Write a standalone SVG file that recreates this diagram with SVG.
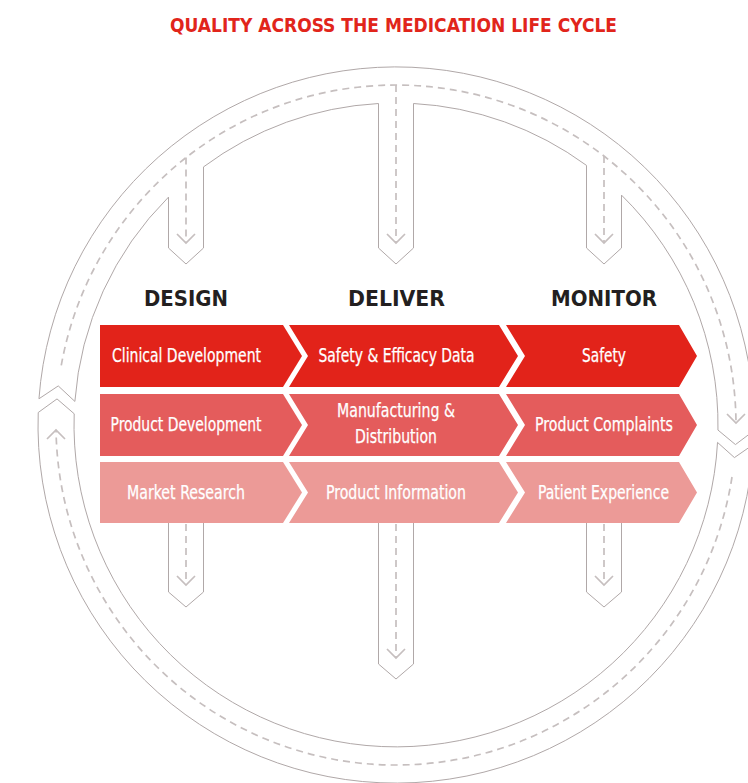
<svg xmlns="http://www.w3.org/2000/svg" width="748" height="783" viewBox="0 0 748 783">
<style>
.ring{fill:none;stroke:#b0a8a8;stroke-width:1;stroke-linejoin:miter}
.dash{fill:none;stroke:#c6bfbf;stroke-width:1.7;stroke-dasharray:7 5}
.ah{fill:none;stroke:#c6bfbf;stroke-width:1.7}
.r1{fill:#e2231a}.r2{fill:#e45c5c}.r3{fill:#ec9a97}
.t{font-family:'DejaVu Sans Condensed','DejaVu Sans',sans-serif;font-stretch:condensed;font-size:19px;fill:#ffffff;stroke:#ffffff;stroke-width:0.25;text-anchor:middle}
.h{font-family:'DejaVu Sans Condensed','DejaVu Sans',sans-serif;font-stretch:condensed;font-weight:bold;font-size:22px;fill:#231f20;text-anchor:middle}
.title{font-family:'DejaVu Sans Condensed','DejaVu Sans',sans-serif;font-stretch:condensed;font-weight:bold;font-size:19.5px;fill:#e1251b;text-anchor:middle}
</style>
<rect width="748" height="783" fill="#ffffff"/>
<text class="title" x="393.5" y="31.5" textLength="447" lengthAdjust="spacingAndGlyphs">QUALITY ACROSS THE MEDICATION LIFE CYCLE</text>

<g id="ring-upper">
<path class="ring" d="M38.96,398.78 A358,358 0 0 1 753.96,430.62 L735.44,444.57 L717.96,430.06 A322,322 0 0 0 621.5,195.1 L621.5,248 L604,264 L586.5,248 L586.5,165.4 A322,322 0 0 0 413.5,103.5 L413.5,248 L396,264 L378.5,248 L378.5,103.5 A322,322 0 0 0 203.5,166.9 L203.5,248 L186,264 L168.5,248 L168.5,197.1 A322,322 0 0 0 74.87,401.42 L58.25,385.92 Z"/>
</g>
<g id="ring-lower">
<path class="ring" d="M753.48,444.36 A358,358 0 0 1 38.22,412.51 L57,398.92 L74.2,413.76 A322,322 0 0 0 717.53,442.41 L734.43,457.59 Z"/>
</g>
<g id="stems-lower">
<path class="ring" d="M168.5,523 V592 L186,607 L203.5,592 V523"/>
<path class="ring" d="M378.5,523 V664 L396,679 L413.5,664 V523"/>
<path class="ring" d="M586.5,523 V592 L604,607 L621.5,592 V523"/>
</g>

<g id="connectors">
<path class="dash" d="M61.27,365.37 A340,340 0 0 1 735.99,422.63"/>
<path class="ah" d="M727,414 L736,423 L745,414"/>
<path class="dash" d="M186,157.6 V243"/>
<path class="ah" d="M177,234 L186,243 L195,234"/>
<path class="dash" d="M396,85 V243"/>
<path class="ah" d="M387,234 L396,243 L405,234"/>
<path class="dash" d="M604,156.1 V243"/>
<path class="ah" d="M595,234 L604,243 L613,234"/>
<path class="dash" d="M732,477 A340,340 0 0 1 56.03,429.75"/>
<path class="ah" d="M47,439 L56,430 L65,439"/>
<path class="dash" d="M186,524 V585"/>
<path class="ah" d="M177,576 L186,585 L195,576"/>
<path class="dash" d="M396,524 V658"/>
<path class="ah" d="M387,649 L396,658 L405,649"/>
<path class="dash" d="M604,524 V585"/>
<path class="ah" d="M595,576 L604,585 L613,576"/>
</g>

<g id="header-design"><text class="h" x="186" y="306" textLength="84" lengthAdjust="spacingAndGlyphs">DESIGN</text></g>
<g id="header-deliver"><text class="h" x="396.5" y="306" textLength="97" lengthAdjust="spacingAndGlyphs">DELIVER</text></g>
<g id="header-monitor"><text class="h" x="604" y="306" textLength="106" lengthAdjust="spacingAndGlyphs">MONITOR</text></g>

<g id="clinical-development">
<polygon class="r1" points="100,325 283,325 302,356 283,387 100,387"/>
<text class="t" x="186.5" y="362" textLength="149" lengthAdjust="spacingAndGlyphs">Clinical Development</text>
</g>
<g id="safety-efficacy-data">
<polygon class="r1" points="289,325 499,325 518,356 499,387 289,387 308,356"/>
<text class="t" x="396.5" y="362" textLength="156" lengthAdjust="spacingAndGlyphs">Safety &amp; Efficacy Data</text>
</g>
<g id="safety">
<polygon class="r1" points="506,325 679,325 697,356 679,387 506,387 525,356"/>
<text class="t" x="604" y="362" textLength="44" lengthAdjust="spacingAndGlyphs">Safety</text>
</g>

<g id="product-development">
<polygon class="r2" points="100,394 283,394 302,425 283,456 100,456"/>
<text class="t" x="186" y="430.5" textLength="151" lengthAdjust="spacingAndGlyphs">Product Development</text>
</g>
<g id="manufacturing-distribution">
<polygon class="r2" points="289,394 499,394 518,425 499,456 289,456 308,425"/>
<text class="t" x="396" y="417" textLength="118" lengthAdjust="spacingAndGlyphs">Manufacturing &amp;</text>
<text class="t" x="396" y="443" textLength="82" lengthAdjust="spacingAndGlyphs">Distribution</text>
</g>
<g id="product-complaints">
<polygon class="r2" points="506,394 679,394 697,425 679,456 506,456 525,425"/>
<text class="t" x="604" y="430.5" textLength="138" lengthAdjust="spacingAndGlyphs">Product Complaints</text>
</g>

<g id="market-research">
<polygon class="r3" points="100,462 283,462 302,492.5 283,523 100,523"/>
<text class="t" x="186" y="498.5" textLength="118" lengthAdjust="spacingAndGlyphs">Market Research</text>
</g>
<g id="product-information">
<polygon class="r3" points="289,462 499,462 518,492.5 499,523 289,523 308,492.5"/>
<text class="t" x="396" y="498.5" textLength="140" lengthAdjust="spacingAndGlyphs">Product Information</text>
</g>
<g id="patient-experience">
<polygon class="r3" points="506,462 679,462 697,492.5 679,523 506,523 525,492.5"/>
<text class="t" x="603.5" y="498.5" textLength="131" lengthAdjust="spacingAndGlyphs">Patient Experience</text>
</g>
</svg>
